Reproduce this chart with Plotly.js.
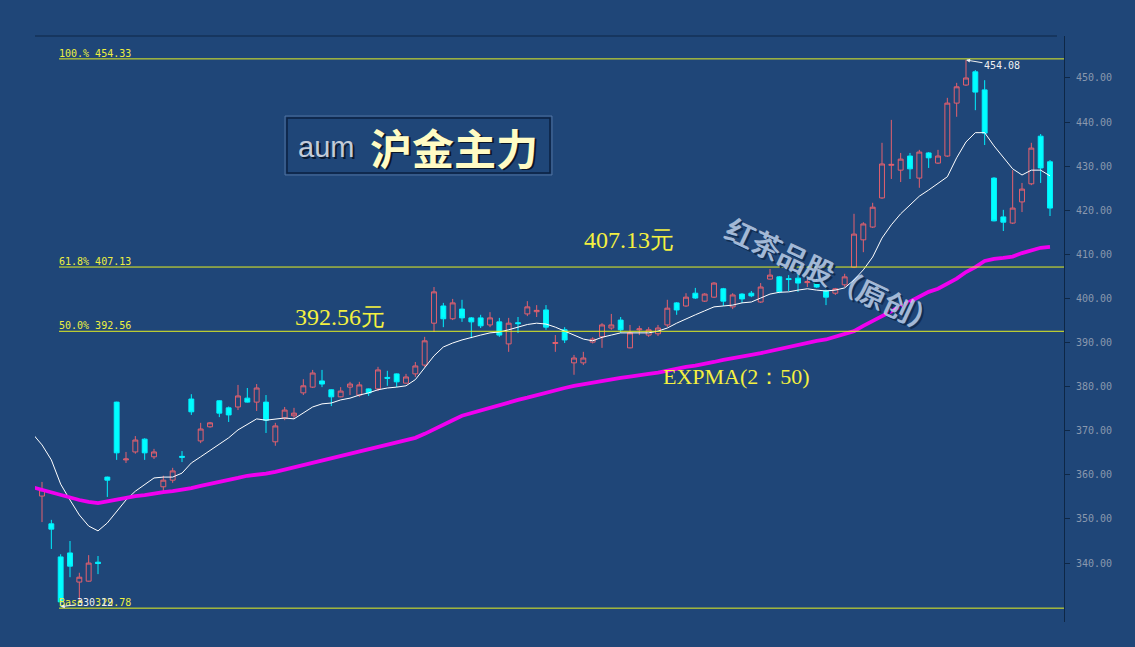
<!DOCTYPE html>
<html>
<head>
<meta charset="utf-8">
<script src="https://cdn.plot.ly/plotly-3.0.1.min.js"></script>
<style>
html,body{margin:0;padding:0;background:#1f4678;}
#chart{width:1135px;height:647px;}
</style>
</head>
<body>
<div id="chart"></div>
<script>
// ---- data ----
const openP = [355.2,348.9,341.4,342.3,335.7,335.9,340.2,359.5,376.5,363.4,
  365.2,368.1,364.1,357.3,358.8,364.2,377.2,367.7,370.9,376.8,
  375.2,375.4,377.4,376.5,376.5,367.5,372.9,373.4,378.6,379.9,
  381.3,379.3,377.7,379.9,378.1,379.5,379.5,382.1,382.9,380.8,
  382.9,384.9,394.4,398.3,395.4,397.6,395.6,395.6,394.0,394.7,
  389.7,394.5,396.5,397.0,397.4,389.8,392.9,385.4,385.4,390.1,
  391.3,393.3,395.1,388.8,392.9,391.7,392.0,394.0,399.0,398.3,
  401.2,399.4,400.3,402.2,398.1,401.0,401.2,399.2,404.4,404.9,
  404.5,404.6,403.6,403.5,401.7,401.2,403.1,407.1,413.3,416.2,
  422.8,430.2,429.1,432.3,427.3,433.0,430.7,432.3,444.3,448.4,
  451.4,447.3,427.3,418.5,417.1,421.9,426.0,436.8,431.0];
const highP = [358.4,349.8,342.0,345.0,337.8,341.8,341.6,359.6,376.6,365.2,
  368.8,368.3,365.9,359.8,361.6,365.4,378.3,371.8,372.0,376.9,
  375.5,380.4,379.7,380.6,378.1,371.8,375.4,375.2,381.7,383.8,
  383.8,379.4,379.9,381.1,381.1,379.6,384.5,383.6,383.0,382.9,
  385.6,391.3,402.6,399.0,399.9,399.7,395.8,396.3,396.9,395.6,
  395.6,395.8,399.4,398.5,398.5,391.7,393.5,387.2,387.9,391.2,
  394.4,396.5,395.8,394.0,393.8,393.5,394.0,399.7,399.2,401.2,
  402.4,401.2,403.7,402.4,401.2,401.2,401.7,403.5,406.7,405.1,
  405.3,405.6,404.9,404.4,402.0,402.4,405.6,419.2,417.3,421.7,
  435.3,440.5,433.0,433.0,433.7,433.2,433.7,445.5,448.9,454.08,
  451.8,449.5,427.5,420.1,429.1,426.2,435.3,437.3,431.4];
const lowP = [349.3,343.2,330.12,336.8,331.2,335.8,337.5,355.0,363.4,362.7,
  364.8,363.4,363.6,356.1,358.2,362.9,373.6,367.2,370.7,373.1,
  372.0,374.7,376.4,374.5,369.5,366.6,372.4,372.7,378.1,379.7,
  379.9,375.6,377.6,378.1,377.7,377.9,379.0,380.2,379.9,380.7,
  382.2,384.5,392.4,393.5,395.1,394.7,391.0,393.3,393.5,391.3,
  387.9,392.2,396.0,395.8,392.9,387.9,389.9,382.7,384.9,389.8,
  388.8,392.9,392.2,388.7,391.7,391.3,391.5,393.5,396.3,398.1,
  399.9,399.2,400.1,398.3,397.6,399.0,400.3,399.0,404.3,401.2,
  401.7,401.5,402.6,402.4,398.5,400.8,402.6,406.9,410.5,416.0,
  422.6,427.1,426.4,427.1,425.1,429.6,430.5,432.1,441.2,448.2,
  442.7,434.8,417.5,415.3,416.9,419.6,425.7,426.2,418.7];
const closeP = [356.6,347.7,331.2,339.3,336.8,340.0,339.9,358.8,365.0,363.6,
  367.9,365.0,365.2,358.8,360.9,364.0,374.3,370.4,371.8,374.0,
  373.6,377.9,376.5,379.7,372.4,371.1,374.7,374.0,380.2,383.1,
  380.6,377.7,379.0,380.6,380.4,378.6,383.8,381.9,381.1,382.2,
  384.7,390.4,401.5,395.4,399.0,395.6,394.7,393.8,395.6,391.7,
  394.4,394.3,398.1,397.3,393.5,390.0,390.6,386.5,386.5,390.8,
  394.0,394.0,392.9,392.2,393.1,392.9,393.3,397.8,397.4,400.3,
  400.1,401.0,403.5,399.4,400.8,399.9,400.6,402.6,405.3,401.5,
  404.3,403.5,403.8,402.6,400.3,402.2,404.9,414.6,416.9,420.7,
  430.5,430.4,431.6,429.4,433.2,431.9,432.3,444.3,448.0,450.0,
  446.8,437.5,417.6,417.3,420.5,424.8,434.1,429.6,420.5];

// white moving-average line, first value sits one bar before the first candle
const maLine = [369.3,366.8,363.4,357.9,354.3,350.9,348.4,347.3,349.1,351.6,354.3,
  356.3,357.9,359.3,359.5,359.5,360.4,362.7,364.1,365.6,367.0,
  368.4,370.2,371.5,372.7,372.4,372.7,372.9,372.7,374.0,375.4,
  376.1,376.3,377.0,377.4,378.1,378.6,379.3,379.7,379.9,380.2,
  381.6,384.2,387.0,389.0,389.9,390.6,391.2,391.7,392.2,392.4,
  392.9,393.5,394.1,394.4,394.2,393.5,392.6,391.7,390.8,390.4,
  391.2,391.7,392.2,392.2,392.2,392.2,392.6,393.3,394.4,395.4,
  396.3,397.2,398.1,398.3,398.5,399.0,399.2,400.1,401.0,401.4,
  401.5,401.9,402.2,401.9,401.7,401.9,402.4,404.2,406.5,409.4,
  413.7,416.7,419.2,421.2,423.2,424.6,426.0,427.6,431.9,435.5,
  437.6,437.6,434.6,431.9,429.4,428.0,429.1,429.1,427.8];
// EXPMA(2:50) magenta line, same alignment as maLine
const expmaLine = [357.2,356.6,356.1,355.4,354.8,354.3,353.9,353.6,354.0,354.4,354.9,
  355.2,355.4,355.8,356.1,356.3,356.6,357.0,357.5,357.9,358.4,
  358.8,359.3,359.8,360.0,360.3,360.7,361.2,361.8,362.2,362.7,
  363.3,363.7,364.3,364.7,365.2,365.8,366.3,366.8,367.2,367.7,
  368.4,369.3,370.4,371.3,372.4,373.4,374.0,374.7,375.4,376.0,
  376.5,377.0,377.5,378.1,378.7,379.3,379.7,380.2,380.6,381.0,
  381.3,381.7,382.0,382.3,382.7,382.9,383.2,383.7,384.0,384.5,
  384.8,385.1,385.6,386.1,386.4,386.8,387.2,387.6,388.1,388.5,
  389.0,389.6,390.0,390.4,390.7,391.3,392.0,392.6,393.8,394.9,
  396.0,397.2,398.3,399.2,400.3,401.5,402.2,403.3,404.5,406.0,
  407.1,408.5,409.0,409.2,409.5,410.3,411.0,411.5,411.7];

const fibLevels = [454.33, 407.13, 392.56, 329.78];
const fibNames  = ['100.%', '61.8%', '50.0%', 'Base\u00a0'];
const yTicks = [340,350,360,370,380,390,400,410,420,430,440,450];
const lowMark = {bar: 2, value: 330.12};
const highMark = {bar: 99, value: 454.08};
const titleLatin = 'aum';
const titleCJK = '沪金主力';
const priceNotes = ['407.13元', '392.56元'];
const expmaNote = 'EXPMA(2：50)';
const watermark = '红茶品股（原创）';

// ---- layout helpers (pixel -> paper) ----
const L = 35, R = 71, T = 36, B = 25, W = 1135, H = 647;
const PW = W - L - R, PH = H - T - B;
const px = x => (x - L) / PW;
const py = y => (H - B - y) / PH;

const barX = openP.map((_, i) => i);
const lineX = maLine.map((_, i) => i - 1);

const traces = [
  {
    type: 'candlestick', x: barX, open: openP, high: highP, low: lowP, close: closeP,
    increasing: {line: {color: '#e4606e', width: 1}, fillcolor: 'rgba(0,0,0,0)'},
    decreasing: {line: {color: '#00f0ff', width: 1}, fillcolor: '#00ffff'},
    whiskerwidth: 0, hoverinfo: 'skip', showlegend: false
  },
  {
    type: 'scatter', mode: 'lines', x: lineX, y: maLine,
    line: {color: '#ffffff', width: 1}, hoverinfo: 'skip', showlegend: false
  },
  {
    type: 'scatter', mode: 'lines', x: lineX, y: expmaLine,
    line: {color: '#f000f0', width: 3.8}, hoverinfo: 'skip', showlegend: false
  }
];

const shapes = [
  {type: 'line', xref: 'paper', yref: 'paper', x0: 0, x1: px(1057), y0: 1, y1: 1,
   line: {color: '#0e2746', width: 1}},
  // title box
  {type: 'rect', xref: 'paper', yref: 'paper', x0: px(285), x1: px(552), y0: py(175), y1: py(116),
   line: {color: 'rgba(110,140,185,0.6)', width: 1}},
  {type: 'rect', xref: 'paper', yref: 'paper', x0: px(287), x1: px(550), y0: py(173), y1: py(118),
   line: {color: '#0b2140', width: 1.5}}
];
fibLevels.forEach(v => shapes.push({
  type: 'line', xref: 'paper', yref: 'y', x0: px(59), x1: 1, y0: v, y1: v,
  line: {color: '#e6f020', width: 1}
}));

const annotations = [];
fibLevels.forEach((v, i) => annotations.push({
  xref: 'paper', yref: 'y', x: px(58), y: v, xanchor: 'left', yanchor: 'bottom',
  text: fibNames[i] + '\u00a0' + v.toFixed(2), showarrow: false, borderpad: 0, yshift: -1,
  font: {family: 'DejaVu Sans Mono', size: 10, color: '#eef040'}
}));
annotations.push({
  x: lowMark.bar, y: lowMark.value, xref: 'x', yref: 'y', text: lowMark.value.toFixed(2),
  showarrow: true, ax: 34, ay: -4, arrowcolor: '#f0f0f0', arrowhead: 2, arrowsize: 0.8, arrowwidth: 1,
  font: {family: 'DejaVu Sans Mono', size: 10, color: '#f0f0f0'}
});
annotations.push({
  x: highMark.bar, y: highMark.value, xref: 'x', yref: 'y', text: highMark.value.toFixed(2),
  showarrow: true, ax: 36, ay: 6, arrowcolor: '#f0f0f0', arrowhead: 2, arrowsize: 0.8, arrowwidth: 1,
  font: {family: 'DejaVu Sans Mono', size: 10, color: '#f0f0f0'}
});
// title with shadows
const addTxt = (text, x, y, font, extra) => annotations.push(Object.assign({
  xref: 'paper', yref: 'paper', x: px(x), y: py(y), xanchor: 'center', yanchor: 'middle',
  text: text, showarrow: false, font: font
}, extra || {}));
addTxt(titleLatin, 328, 149, {family: 'Liberation Sans', size: 29, color: '#0a1a30'});
addTxt(titleLatin, 326, 147, {family: 'Liberation Sans', size: 29, color: '#c4ccd8'});
addTxt(titleCJK, 456, 148, {family: 'Noto Sans CJK SC', size: 42, color: '#0a1628', weight: 700});
addTxt(titleCJK, 454, 146, {family: 'Noto Sans CJK SC', size: 42, color: '#fffbc4', weight: 700});
// price notes
addTxt(priceNotes[0], 629, 240, {family: 'Liberation Serif', size: 24, color: '#f4f040'});
addTxt(priceNotes[1], 340, 317, {family: 'Liberation Serif', size: 24, color: '#f4f040'});
addTxt(expmaNote, 736, 376, {family: 'Liberation Serif', size: 22, color: '#f4f040'});
// watermark
addTxt(watermark, 836, 277, {family: 'Noto Sans CJK SC', size: 29, color: '#112c50'}, {textangle: 25});
addTxt(watermark, 833, 274, {family: 'Noto Sans CJK SC', size: 29, color: 'rgba(225,235,250,0.7)'}, {textangle: 25});
addTxt(watermark, 834, 275, {family: 'Noto Sans CJK SC', size: 29, color: '#a2b9d8'}, {textangle: 25});

const layout = {
  width: W, height: H,
  margin: {l: L, r: R, t: T, b: B, pad: 0},
  paper_bgcolor: '#1f4678', plot_bgcolor: '#1f4678',
  showlegend: false, hovermode: false, boxgap: 0.25,
  xaxis: {range: [-0.75, 109.5], showgrid: false, zeroline: false, showticklabels: false,
          showline: false, ticks: '', rangeslider: {visible: false}, fixedrange: true},
  yaxis: {side: 'right', range: [326.64, 459.52], tickvals: yTicks, tickformat: '.2f',
          showgrid: false, zeroline: false, showline: true, linecolor: '#0e2746', linewidth: 1,
          ticks: 'outside', ticklen: 5, tickcolor: '#0e2746', ticklabelstandoff: 4,
          tickfont: {family: 'DejaVu Sans Mono', size: 10, color: '#8a98ae'}, fixedrange: true},
  shapes: shapes,
  annotations: annotations
};

Plotly.newPlot('chart', traces, layout, {displayModeBar: false, staticPlot: true});
</script>
</body>
</html>
